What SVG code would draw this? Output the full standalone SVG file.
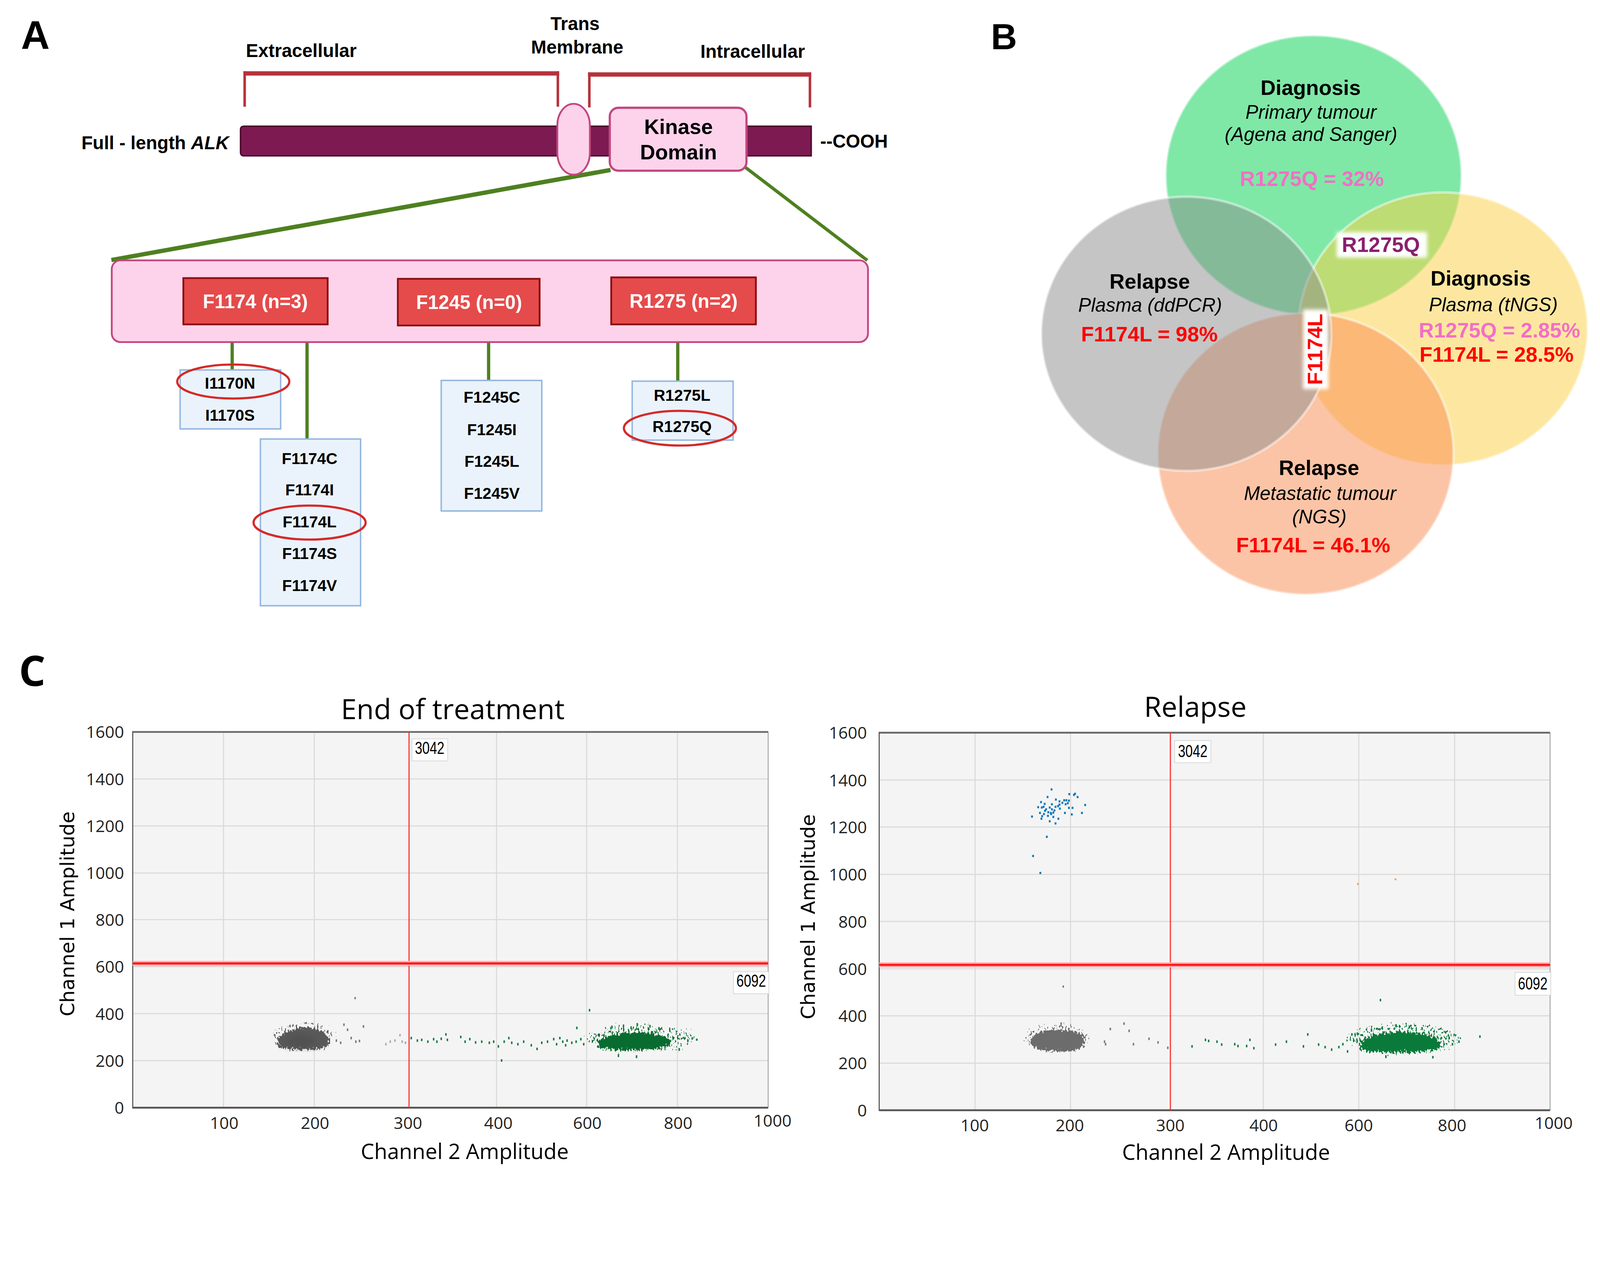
<svg xmlns="http://www.w3.org/2000/svg" width="4424" height="3246" viewBox="0 0 4424 3246" preserveAspectRatio="xMinYMin meet" style="width:100vw;height:73.373vw">
<defs>
<style>
.sb{font-family:"Liberation Sans",Arial,sans-serif;font-weight:bold}
.si{font-family:"Liberation Sans",Arial,sans-serif;font-style:italic}
.os{font-family:"Open Sans","Liberation Sans",sans-serif}
.dv{font-family:"DejaVu Sans",Verdana,sans-serif}
.mid{text-anchor:middle}
.end{text-anchor:end}
.pinkbox{fill:#fdd3ec;stroke:#c2477d}
.redbox{fill:#e54b4b;stroke:#8b1010;stroke-width:5}
.bluebox{fill:#eaf3fb;stroke:#94b6e0;stroke-width:4}
.redring{fill:none;stroke:#d42a2a;stroke-width:6}
.grn{stroke:#4e8020;fill:none}
.brk{fill:#b7323a}
.grid{stroke:#dadada;stroke-width:3}
.tick{font-family:"Open Sans","Liberation Sans",sans-serif;font-size:46px;fill:#222}
.tagbox{fill:#ffffff;stroke:#d6d6d6;stroke-width:2}
.tag{font-family:"Liberation Sans",Arial,sans-serif;font-size:47px;text-anchor:middle}
.venn{stroke:#ffffff;stroke-opacity:0.45;stroke-width:7;fill-opacity:0.5}
.dg{fill:#0a7a3a}
.dk{fill:#777777}
.db{fill:#0a78b8}
</style>
<filter id="fk" x="-40%" y="-90%" width="180%" height="280%" color-interpolation-filters="sRGB">
<feGaussianBlur in="SourceAlpha" stdDeviation="9 11" result="b"/>
<feTurbulence type="fractalNoise" baseFrequency="0.22 0.12" numOctaves="2" seed="4" result="n"/>
<feColorMatrix in="n" type="matrix" values="0 0 0 0 0 0 0 0 0 0 0 0 0 0 0 1 0 0 0 0" result="na"/>
<feComposite in="b" in2="na" operator="arithmetic" k1="0" k2="1" k3="0.9" k4="-0.45" result="m"/>
<feComponentTransfer in="m" result="t"><feFuncA type="discrete" tableValues="0 1"/></feComponentTransfer>
<feFlood flood-color="#5a5a5a"/>
<feComposite in2="t" operator="in"/>
</filter>
<filter id="fk2" x="-40%" y="-90%" width="180%" height="280%" color-interpolation-filters="sRGB">
<feGaussianBlur in="SourceAlpha" stdDeviation="9 11" result="b"/>
<feTurbulence type="fractalNoise" baseFrequency="0.22 0.12" numOctaves="2" seed="9" result="n"/>
<feColorMatrix in="n" type="matrix" values="0 0 0 0 0 0 0 0 0 0 0 0 0 0 0 1 0 0 0 0" result="na"/>
<feComposite in="b" in2="na" operator="arithmetic" k1="0" k2="1" k3="0.9" k4="-0.45" result="m"/>
<feComponentTransfer in="m" result="t"><feFuncA type="discrete" tableValues="0 1"/></feComponentTransfer>
<feFlood flood-color="#6c6c6c"/>
<feComposite in2="t" operator="in"/>
</filter>
<filter id="fg" x="-30%" y="-90%" width="160%" height="280%" color-interpolation-filters="sRGB">
<feGaussianBlur in="SourceAlpha" stdDeviation="11 12" result="b"/>
<feTurbulence type="fractalNoise" baseFrequency="0.22 0.12" numOctaves="2" seed="17" result="n"/>
<feColorMatrix in="n" type="matrix" values="0 0 0 0 0 0 0 0 0 0 0 0 0 0 0 1 0 0 0 0" result="na"/>
<feComposite in="b" in2="na" operator="arithmetic" k1="0" k2="1" k3="0.9" k4="-0.45" result="m"/>
<feComponentTransfer in="m" result="t"><feFuncA type="discrete" tableValues="0 1"/></feComponentTransfer>
<feFlood flood-color="#086c30"/>
<feComposite in2="t" operator="in"/>
</filter>
<filter id="fg2" x="-30%" y="-90%" width="160%" height="280%" color-interpolation-filters="sRGB">
<feGaussianBlur in="SourceAlpha" stdDeviation="11 13" result="b"/>
<feTurbulence type="fractalNoise" baseFrequency="0.22 0.12" numOctaves="2" seed="23" result="n"/>
<feColorMatrix in="n" type="matrix" values="0 0 0 0 0 0 0 0 0 0 0 0 0 0 0 1 0 0 0 0" result="na"/>
<feComposite in="b" in2="na" operator="arithmetic" k1="0" k2="1" k3="0.9" k4="-0.45" result="m"/>
<feComponentTransfer in="m" result="t"><feFuncA type="discrete" tableValues="0 1"/></feComponentTransfer>
<feFlood flood-color="#0a7a3a"/>
<feComposite in2="t" operator="in"/>
</filter>
<filter id="soft" x="-20%" y="-20%" width="140%" height="140%"><feGaussianBlur stdDeviation="5"/></filter>
<filter id="haze" x="-50%" y="-50%" width="200%" height="200%"><feGaussianBlur stdDeviation="14"/></filter>
</defs>
<rect width="4424" height="3246" fill="#ffffff"/>

<!-- ================= PANEL A ================= -->
<g id="panelA-labels">
<text class="sb" x="58" y="135" font-size="110">A</text>
<text class="sb mid" x="833" y="158" font-size="51">Extracellular</text>
<text class="sb mid" x="1590" y="83" font-size="51">Trans</text>
<text class="sb mid" x="1596" y="148" font-size="51">Membrane</text>
<text class="sb mid" x="2081" y="160" font-size="51">Intracellular</text>
</g>
<g id="brackets">
<rect class="brk" x="673" y="197" width="873" height="12"/>
<rect class="brk" x="673" y="197" width="7" height="98"/>
<rect class="brk" x="1539" y="197" width="7" height="98"/>
<rect class="brk" x="1626" y="200" width="617" height="12"/>
<rect class="brk" x="1626" y="200" width="7" height="97"/>
<rect class="brk" x="2236" y="200" width="7" height="97"/>
</g>
<g id="connectors">
<line class="grn" x1="1688" y1="470" x2="308" y2="719" stroke-width="12"/>
<line class="grn" x1="2060" y1="462" x2="2398" y2="720" stroke-width="9"/>
<line class="grn" x1="642" y1="946" x2="642" y2="1024" stroke-width="9"/>
<line class="grn" x1="849" y1="946" x2="849" y2="1215" stroke-width="9"/>
<line class="grn" x1="1351" y1="946" x2="1351" y2="1053" stroke-width="9"/>
<line class="grn" x1="1874" y1="946" x2="1874" y2="1055" stroke-width="9"/>
</g>
<g id="alk-bar">
<path d="M 675 349 H 2243 V 431 H 675 Q 665 431 665 421 V 359 Q 665 349 675 349 Z" fill="#7d1a52" stroke="#4b0a2c" stroke-width="4"/>
<text class="sb end" x="633" y="413" font-size="51">Full - length <tspan font-style="italic">ALK</tspan></text>
<text class="sb" x="2268" y="408" font-size="51">--COOH</text>
</g>
<g id="transmembrane">
<rect class="pinkbox" x="1541" y="287" width="90" height="196" rx="45" ry="60" stroke-width="5"/>
</g>
<g id="kinase-domain">
<rect class="pinkbox" x="1686" y="298" width="378" height="174" rx="24" stroke-width="6"/>
<text class="sb mid" x="1876" y="370" font-size="58">Kinase</text>
<text class="sb mid" x="1876" y="441" font-size="58">Domain</text>
</g>
<g id="kinase-detail">
<rect class="pinkbox" x="309" y="720" width="2091" height="226" rx="24" stroke-width="5"/>
</g>
<g id="F1174">
<rect class="redbox" x="507" y="769" width="399" height="128"/>
<text class="sb mid" x="706" y="852" font-size="53" fill="#ffffff">F1174 (n=3)</text>
</g>
<g id="F1245">
<rect class="redbox" x="1100" y="771" width="392" height="129"/>
<text class="sb mid" x="1297" y="854" font-size="53" fill="#ffffff">F1245 (n=0)</text>
</g>
<g id="R1275">
<rect class="redbox" x="1690" y="767" width="400" height="130"/>
<text class="sb mid" x="1890" y="851" font-size="53" fill="#ffffff">R1275 (n=2)</text>
</g>
<g id="I1170-list">
<rect class="bluebox" x="498" y="1023" width="278" height="163"/>
<text class="sb mid" x="636" y="1075" font-size="44">I1170N</text>
<text class="sb mid" x="636" y="1163" font-size="44">I1170S</text>
<ellipse class="redring" cx="645" cy="1055" rx="155" ry="47"/>
</g>
<g id="F1174-list">
<rect class="bluebox" x="720" y="1214" width="277" height="461"/>
<text class="sb mid" x="856" y="1283" font-size="44">F1174C</text>
<text class="sb mid" x="856" y="1370" font-size="44">F1174I</text>
<text class="sb mid" x="856" y="1458" font-size="44">F1174L</text>
<text class="sb mid" x="856" y="1546" font-size="44">F1174S</text>
<text class="sb mid" x="856" y="1634" font-size="44">F1174V</text>
<ellipse class="redring" cx="856" cy="1445" rx="155" ry="47"/>
</g>
<g id="F1245-list">
<rect class="bluebox" x="1220" y="1052" width="278" height="361"/>
<text class="sb mid" x="1360" y="1114" font-size="44">F1245C</text>
<text class="sb mid" x="1360" y="1203" font-size="44">F1245I</text>
<text class="sb mid" x="1360" y="1291" font-size="44">F1245L</text>
<text class="sb mid" x="1360" y="1379" font-size="44">F1245V</text>
</g>
<g id="R1275-list">
<rect class="bluebox" x="1748" y="1054" width="279" height="163"/>
<text class="sb mid" x="1886" y="1108" font-size="44">R1275L</text>
<text class="sb mid" x="1886" y="1195" font-size="44">R1275Q</text>
<ellipse class="redring" cx="1880" cy="1184" rx="155" ry="48"/>
</g>

<!-- ================= PANEL B ================= -->
<g id="panelB">
<text class="sb" x="2740" y="136" font-size="100">B</text>
<g id="venn-circles">
<ellipse class="venn" cx="3632" cy="485" rx="409" ry="387" fill="#00d150"/>
<ellipse class="venn" cx="3990" cy="909" rx="400" ry="377" fill="#fbcf41"/>
<ellipse class="venn" cx="3610" cy="1255" rx="409" ry="389" fill="#f9894d"/>
<ellipse class="venn" cx="3280" cy="923" rx="401" ry="379" fill="#8c8c8c"/>
</g>
<g id="diag-primary">
<text class="sb mid" x="3624" y="263" font-size="58">Diagnosis</text>
<text class="si mid" x="3625" y="328" font-size="53">Primary tumour</text>
<text class="si mid" x="3625" y="390" font-size="53">(Agena and Sanger)</text>
<text class="sb mid" x="3627" y="514" font-size="58" fill="#f36ec6">R1275Q = 32%</text>
</g>
<g id="relapse-plasma">
<text class="sb mid" x="3179" y="798" font-size="58">Relapse</text>
<text class="si mid" x="3180" y="862" font-size="53">Plasma (ddPCR)</text>
<text class="sb mid" x="3178" y="944" font-size="58" fill="#ff0000">F1174L = 98%</text>
</g>
<g id="diag-plasma">
<text class="sb mid" x="4094" y="790" font-size="58">Diagnosis</text>
<text class="si mid" x="4129" y="861" font-size="53">Plasma (tNGS)</text>
<text class="sb mid" x="4146" y="933" font-size="58" fill="#f36ec6">R1275Q = 2.85%</text>
<text class="sb mid" x="4138" y="1000" font-size="58" fill="#ff0000">F1174L = 28.5%</text>
</g>
<g id="relapse-meta">
<text class="sb mid" x="3647" y="1313" font-size="58">Relapse</text>
<text class="si mid" x="3650" y="1383" font-size="53">Metastatic tumour</text>
<text class="si mid" x="3648" y="1447" font-size="53">(NGS)</text>
<text class="sb mid" x="3631" y="1527" font-size="58" fill="#ff0000">F1174L = 46.1%</text>
</g>
<g id="overlap-R1275Q">
<rect x="3696" y="642" width="250" height="70" fill="#ffffff" filter="url(#soft)"/>
<text class="sb mid" x="3818" y="697" font-size="58" fill="#8a1f6e">R1275Q</text>
</g>
<g id="overlap-F1174L">
<rect x="3603" y="856" width="70" height="220" fill="#ffffff" filter="url(#soft)"/>
<text class="sb mid" transform="translate(3656,966) rotate(-90)" font-size="58" fill="#ff0000">F1174L</text>
</g>
</g>

<!-- ================= PANEL C ================= -->
<g id="panelC">
<text class="os" x="52" y="1897" font-size="116" font-weight="bold">C</text>

<g id="plot-end-of-treatment">
<text class="os mid" x="1252" y="1989" font-size="78">End of treatment</text>
<rect x="367" y="2024" width="1757" height="1039" fill="#f5f4f5"/>
<g class="grid">
<line x1="367" y1="2154" x2="2124" y2="2154"/>
<line x1="367" y1="2284" x2="2124" y2="2284"/>
<line x1="367" y1="2414" x2="2124" y2="2414"/>
<line x1="367" y1="2543" x2="2124" y2="2543"/>
<line x1="367" y1="2673" x2="2124" y2="2673"/>
<line x1="367" y1="2803" x2="2124" y2="2803"/>
<line x1="367" y1="2933" x2="2124" y2="2933"/>
<line x1="618" y1="2024" x2="618" y2="3063"/>
<line x1="869" y1="2024" x2="869" y2="3063"/>
<line x1="1373" y1="2024" x2="1373" y2="3063"/>
<line x1="1622" y1="2024" x2="1622" y2="3063"/>
<line x1="1873" y1="2024" x2="1873" y2="3063"/>
</g>
<line x1="2124" y1="2024" x2="2124" y2="3063" stroke="#b0b0b0" stroke-width="3"/>
<line x1="367" y1="2024" x2="2124" y2="2024" stroke="#6a6a6a" stroke-width="5"/>
<line x1="367" y1="2022" x2="367" y2="3065" stroke="#555555" stroke-width="3"/>
<line x1="367" y1="3063" x2="2124" y2="3063" stroke="#555555" stroke-width="5"/>
<g id="eot-data">
<ellipse cx="840" cy="2866" rx="98" ry="46" fill="#000" fill-opacity="0.42" filter="url(#fk)"/>
<path d="M 762 2886 C 762 2864 786 2853 804 2851 C 816 2838 850 2835 868 2844 C 898 2849 914 2866 914 2886 C 910 2900 880 2903 838 2902 C 792 2903 764 2898 762 2886 Z" fill="#5a5a5a" filter="url(#fk)"/>
<ellipse cx="832" cy="2880" rx="45" ry="14" fill="#3e3e3e" opacity="0.45" filter="url(#haze)"/>
<g class="dk">
<rect x="928" y="2874" width="4" height="7"/><rect x="940" y="2880" width="4" height="7"/><rect x="949" y="2830" width="4" height="7"/><rect x="959" y="2844" width="4" height="7"/><rect x="969" y="2867" width="4" height="7"/><rect x="982" y="2877" width="4" height="7"/><rect x="992" y="2875" width="4" height="7"/><rect x="1003" y="2835" width="4" height="7"/><rect x="980" y="2757" width="4" height="6"/>
<rect x="1065" y="2884" width="4" height="7" opacity="0.6"/><rect x="1077" y="2877" width="4" height="7" opacity="0.6"/><rect x="1090" y="2874" width="4" height="7" opacity="0.6"/><rect x="1104" y="2859" width="4" height="7" opacity="0.6"/><rect x="1110" y="2877" width="4" height="7" opacity="0.6"/><rect x="1119" y="2880" width="4" height="7" opacity="0.6"/>
</g>
<ellipse cx="1770" cy="2870" rx="165" ry="46" fill="#000" fill-opacity="0.42" filter="url(#fg)"/>
<path d="M 1640 2888 C 1650 2870 1692 2856 1750 2854 C 1808 2852 1850 2864 1862 2880 C 1866 2896 1828 2903 1760 2904 C 1692 2905 1645 2900 1640 2888 Z" fill="#086c30" filter="url(#fg)"/>
<g class="dg">
<rect x="1135" y="2867" width="4" height="7"/><rect x="1152" y="2874" width="4" height="7"/><rect x="1164" y="2872" width="4" height="7"/><rect x="1181" y="2877" width="4" height="7"/><rect x="1197" y="2870" width="4" height="7"/><rect x="1206" y="2877" width="4" height="7"/><rect x="1218" y="2869" width="4" height="7"/><rect x="1231" y="2857" width="4" height="7"/><rect x="1235" y="2872" width="4" height="7"/><rect x="1272" y="2864" width="4" height="7"/><rect x="1284" y="2877" width="4" height="7"/><rect x="1297" y="2870" width="4" height="7"/><rect x="1313" y="2879" width="4" height="7"/><rect x="1330" y="2877" width="4" height="7"/><rect x="1351" y="2880" width="4" height="7"/><rect x="1363" y="2877" width="4" height="7"/><rect x="1376" y="2890" width="4" height="7"/><rect x="1392" y="2877" width="4" height="7"/><rect x="1405" y="2867" width="4" height="7"/><rect x="1413" y="2880" width="4" height="7"/><rect x="1430" y="2884" width="4" height="7"/><rect x="1446" y="2877" width="4" height="7"/><rect x="1467" y="2887" width="4" height="7"/><rect x="1483" y="2897" width="4" height="7"/><rect x="1496" y="2880" width="4" height="7"/><rect x="1512" y="2877" width="4" height="7"/><rect x="1529" y="2870" width="4" height="7"/><rect x="1537" y="2884" width="4" height="7"/><rect x="1554" y="2877" width="4" height="7"/><rect x="1566" y="2874" width="4" height="7"/><rect x="1579" y="2880" width="4" height="7"/><rect x="1591" y="2877" width="4" height="7"/><rect x="1604" y="2870" width="4" height="7"/><rect x="1612" y="2884" width="4" height="7"/><rect x="1546" y="2867" width="4" height="7"/><rect x="1562" y="2887" width="4" height="7"/>
<rect x="1628" y="2790" width="4" height="7"/><rect x="1593" y="2839" width="4" height="7"/><rect x="1385" y="2929" width="4" height="7"/><rect x="1900" y="2874" width="4" height="7"/><rect x="1912" y="2868" width="4" height="7"/><rect x="1925" y="2872" width="4" height="6"/>
<rect x="1690" y="2836" width="4" height="8"/><rect x="1722" y="2833" width="4" height="8"/><rect x="1760" y="2829" width="4" height="9"/><rect x="1795" y="2834" width="4" height="8"/><rect x="1820" y="2840" width="4" height="8"/><rect x="1743" y="2838" width="4" height="8"/><rect x="1708" y="2915" width="4" height="8"/><rect x="1758" y="2918" width="4" height="8"/><rect x="1876" y="2898" width="4" height="8"/>
</g>
</g>
<line x1="1131" y1="2024" x2="1131" y2="3063" stroke="#ff2a2a" stroke-width="3"/>
<line x1="367" y1="2664" x2="2124" y2="2664" stroke="#ffb0b0" stroke-width="14"/>
<line x1="367" y1="2664" x2="2124" y2="2664" stroke="#ff1a1a" stroke-width="6"/>
<rect class="tagbox" x="1139" y="2043" width="99" height="61"/>
<text class="tag" transform="translate(1188,2085) scale(0.78,1)">3042</text>
<rect class="tagbox" x="2028" y="2687" width="98" height="61"/>
<text class="tag" transform="translate(2077,2729) scale(0.78,1)">6092</text>
<g class="tick">
<text class="end" x="343" y="2041">1600</text>
<text class="end" x="343" y="2171">1400</text>
<text class="end" x="343" y="2301">1200</text>
<text class="end" x="343" y="2431">1000</text>
<text class="end" x="343" y="2560">800</text>
<text class="end" x="343" y="2690">600</text>
<text class="end" x="343" y="2820">400</text>
<text class="end" x="343" y="2950">200</text>
<text class="end" x="343" y="3080">0</text>
<text class="mid" x="620" y="3122">100</text>
<text class="mid" x="871" y="3122">200</text>
<text class="mid" x="1128" y="3122">300</text>
<text class="mid" x="1378" y="3122">400</text>
<text class="mid" x="1624" y="3122">600</text>
<text class="mid" x="1875" y="3122">800</text>
<text class="mid" x="2136" y="3115">1000</text>
</g>
<text class="os mid" x="1285" y="3205" font-size="59">Channel 2 Amplitude</text>
<text class="dv mid" transform="translate(205,2527) rotate(-90)" font-size="54">Channel 1 Amplitude</text>
</g>

<g id="plot-relapse">
<text class="os mid" x="3305" y="1982" font-size="78">Relapse</text>
<rect x="2431" y="2026" width="1855" height="1044" fill="#f5f4f5"/>
<g class="grid">
<line x1="2431" y1="2157" x2="4286" y2="2157"/>
<line x1="2431" y1="2287" x2="4286" y2="2287"/>
<line x1="2431" y1="2418" x2="4286" y2="2418"/>
<line x1="2431" y1="2548" x2="4286" y2="2548"/>
<line x1="2431" y1="2679" x2="4286" y2="2679"/>
<line x1="2431" y1="2809" x2="4286" y2="2809"/>
<line x1="2431" y1="2940" x2="4286" y2="2940"/>
<line x1="2696" y1="2026" x2="2696" y2="3070"/>
<line x1="2960" y1="2026" x2="2960" y2="3070"/>
<line x1="3493" y1="2026" x2="3493" y2="3070"/>
<line x1="3757" y1="2026" x2="3757" y2="3070"/>
<line x1="4022" y1="2026" x2="4022" y2="3070"/>
</g>
<line x1="4286" y1="2026" x2="4286" y2="3070" stroke="#b0b0b0" stroke-width="3"/>
<line x1="2431" y1="2026" x2="4286" y2="2026" stroke="#6a6a6a" stroke-width="5"/>
<line x1="2431" y1="2024" x2="2431" y2="3072" stroke="#555555" stroke-width="3"/>
<line x1="2431" y1="3070" x2="4286" y2="3070" stroke="#555555" stroke-width="5"/>
<g id="relapse-data">
<g class="db">
<rect x="2905" y="2180" width="5" height="6"/><rect x="2954" y="2193" width="5" height="6"/><rect x="2967" y="2195" width="5" height="6"/><rect x="2970" y="2192" width="5" height="6"/><rect x="2977" y="2201" width="5" height="6"/><rect x="2894" y="2201" width="5" height="6"/><rect x="2917" y="2208" width="5" height="6"/><rect x="2927" y="2213" width="5" height="6"/><rect x="2940" y="2210" width="5" height="6"/><rect x="2946" y="2210" width="5" height="6"/><rect x="2953" y="2211" width="5" height="6"/><rect x="2876" y="2215" width="5" height="6"/><rect x="2886" y="2220" width="5" height="6"/><rect x="2906" y="2221" width="5" height="6"/><rect x="2927" y="2222" width="5" height="6"/><rect x="2944" y="2221" width="5" height="6"/><rect x="2950" y="2218" width="5" height="6"/><rect x="2998" y="2223" width="5" height="6"/><rect x="2868" y="2229" width="5" height="6"/><rect x="2878" y="2230" width="5" height="6"/><rect x="2883" y="2228" width="5" height="6"/><rect x="2890" y="2235" width="5" height="6"/><rect x="2900" y="2230" width="5" height="6"/><rect x="2906" y="2235" width="5" height="6"/><rect x="2916" y="2228" width="5" height="6"/><rect x="2928" y="2233" width="5" height="6"/><rect x="2953" y="2231" width="5" height="6"/><rect x="2963" y="2231" width="5" height="6"/><rect x="2873" y="2245" width="5" height="6"/><rect x="2887" y="2239" width="5" height="6"/><rect x="2903" y="2245" width="5" height="6"/><rect x="2910" y="2244" width="5" height="6"/><rect x="2942" y="2245" width="5" height="6"/><rect x="2961" y="2249" width="5" height="6"/><rect x="2989" y="2245" width="5" height="6"/><rect x="2851" y="2255" width="5" height="6"/><rect x="2879" y="2254" width="5" height="6"/><rect x="2895" y="2253" width="5" height="6"/><rect x="2904" y="2248" width="5" height="6"/><rect x="2877" y="2261" width="5" height="6"/><rect x="2924" y="2261" width="5" height="6"/><rect x="2900" y="2268" width="5" height="6"/><rect x="2916" y="2274" width="5" height="6"/><rect x="2913" y="2238" width="5" height="6"/><rect x="2896" y="2243" width="5" height="6"/><rect x="2923" y="2226" width="5" height="6"/><rect x="2935" y="2217" width="5" height="6"/><rect x="2884" y="2248" width="5" height="6"/><rect x="2910" y="2256" width="5" height="6"/>
<rect x="2892" y="2311" width="5" height="6"/><rect x="2854" y="2364" width="5" height="6"/><rect x="2874" y="2411" width="5" height="6"/>
</g>
<rect x="3752" y="2442" width="5" height="5" fill="#f5a050"/>
<rect x="3856" y="2429" width="5" height="5" fill="#f5a050"/>
<ellipse cx="2922" cy="2870" rx="98" ry="48" fill="#000" fill-opacity="0.42" filter="url(#fk2)"/>
<path d="M 2844 2886 C 2846 2864 2871 2850 2905 2848 C 2948 2845 2987 2852 3001 2866 C 3007 2886 2998 2904 2960 2907 C 2911 2910 2850 2904 2844 2886 Z" fill="#6c6c6c" filter="url(#fk2)"/>
<g class="dk">
<rect x="2932" y="2827" width="4" height="7"/><rect x="3068" y="2842" width="4" height="7"/><rect x="3106" y="2827" width="4" height="7"/><rect x="3120" y="2847" width="4" height="7"/><rect x="3052" y="2877" width="4" height="7"/><rect x="3055" y="2884" width="4" height="7"/><rect x="3132" y="2884" width="4" height="7"/><rect x="3175" y="2869" width="4" height="7"/><rect x="3200" y="2879" width="4" height="7"/><rect x="3227" y="2894" width="4" height="7"/><rect x="2938" y="2725" width="4" height="6"/>
</g>
<ellipse cx="3880" cy="2872" rx="170" ry="52" fill="#000" fill-opacity="0.42" filter="url(#fg2)"/>
<path d="M 3748 2894 C 3760 2871 3805 2854 3870 2852 C 3937 2852 3980 2866 3992 2886 C 3996 2901 3956 2910 3880 2911 C 3804 2912 3753 2907 3748 2894 Z" fill="#0a7a3a" filter="url(#fg2)"/>
<g class="dg">
<rect x="3294" y="2890" width="4" height="7"/><rect x="3331" y="2872" width="4" height="7"/><rect x="3340" y="2875" width="4" height="7"/><rect x="3363" y="2877" width="4" height="7"/><rect x="3376" y="2885" width="4" height="7"/><rect x="3412" y="2884" width="4" height="7"/><rect x="3421" y="2889" width="4" height="7"/><rect x="3445" y="2889" width="4" height="7"/><rect x="3454" y="2872" width="4" height="7"/><rect x="3465" y="2895" width="4" height="7"/><rect x="3525" y="2885" width="4" height="7"/><rect x="3555" y="2877" width="4" height="7"/><rect x="3602" y="2890" width="4" height="7"/><rect x="3614" y="2857" width="4" height="7"/><rect x="3644" y="2885" width="4" height="7"/><rect x="3662" y="2892" width="4" height="7"/><rect x="3680" y="2899" width="4" height="7"/><rect x="3700" y="2892" width="4" height="7"/><rect x="3711" y="2884" width="4" height="7"/><rect x="3724" y="2904" width="4" height="7"/><rect x="3736" y="2857" width="4" height="7"/><rect x="3751" y="2855" width="4" height="7"/><rect x="4090" y="2863" width="4" height="7"/><rect x="4032" y="2877" width="4" height="7"/><rect x="4014" y="2884" width="4" height="7"/><rect x="3815" y="2762" width="4" height="7"/>
<rect x="3820" y="2838" width="4" height="8"/><rect x="3858" y="2832" width="4" height="9"/><rect x="3895" y="2836" width="4" height="8"/><rect x="3930" y="2840" width="4" height="8"/><rect x="3790" y="2845" width="4" height="8"/><rect x="3960" y="2920" width="4" height="7"/><rect x="3830" y="2918" width="4" height="8"/>
</g>
</g>
<line x1="3236" y1="2026" x2="3236" y2="3070" stroke="#ff2a2a" stroke-width="3"/>
<line x1="2431" y1="2668" x2="4286" y2="2668" stroke="#ffb0b0" stroke-width="14"/>
<line x1="2431" y1="2668" x2="4286" y2="2668" stroke="#ff1a1a" stroke-width="6"/>
<rect class="tagbox" x="3248" y="2048" width="100" height="61"/>
<text class="tag" transform="translate(3298,2093) scale(0.78,1)">3042</text>
<rect class="tagbox" x="4189" y="2689" width="99" height="63"/>
<text class="tag" transform="translate(4238,2736) scale(0.78,1)">6092</text>
<g class="tick">
<text class="end" x="2397" y="2043">1600</text>
<text class="end" x="2397" y="2174">1400</text>
<text class="end" x="2397" y="2304">1200</text>
<text class="end" x="2397" y="2435">1000</text>
<text class="end" x="2397" y="2565">800</text>
<text class="end" x="2397" y="2696">600</text>
<text class="end" x="2397" y="2826">400</text>
<text class="end" x="2397" y="2957">200</text>
<text class="end" x="2397" y="3087">0</text>
<text class="mid" x="2695" y="3128">100</text>
<text class="mid" x="2958" y="3128">200</text>
<text class="mid" x="3236" y="3128">300</text>
<text class="mid" x="3494" y="3128">400</text>
<text class="mid" x="3757" y="3128">600</text>
<text class="mid" x="4015" y="3128">800</text>
<text class="mid" x="4296" y="3122">1000</text>
</g>
<text class="os mid" x="3390" y="3207" font-size="59">Channel 2 Amplitude</text>
<text class="dv mid" transform="translate(2253,2535) rotate(-90)" font-size="54">Channel 1 Amplitude</text>
</g>
</g>
</svg>
